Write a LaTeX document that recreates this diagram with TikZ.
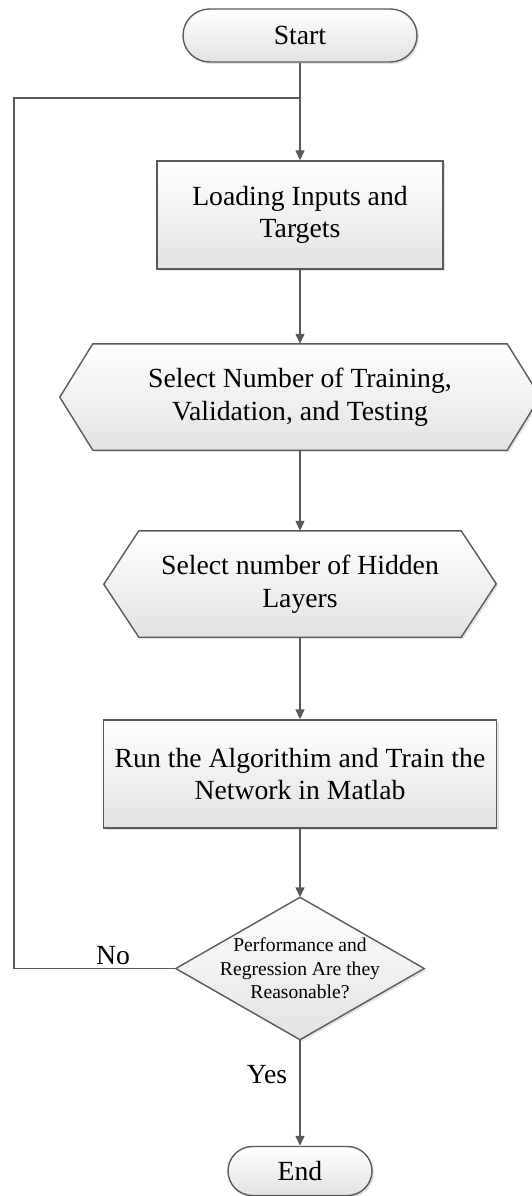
\documentclass[tikz,border=0pt]{standalone}
\usepackage{fontspec}
\setmainfont{Liberation Serif}
\usetikzlibrary{arrows.meta,shadows}
\definecolor{edge}{HTML}{5A5A5A}
\definecolor{shadeb}{HTML}{E2E2E2}
\pgfdeclarelayer{bg}
\pgfsetlayers{bg,main}
\tikzset{
  x=1pt, y=1pt,
  line/.style={draw=edge, line width=1.4pt},
  flow/.style={line, -{Triangle[length=10pt,width=9pt]}},
  shapefill/.style={line, top color=white, bottom color=shadeb,
    drop shadow={opacity=0.22, shadow xshift=2pt, shadow yshift=-2pt}},
  bigtext/.style={font=\fontsize{27.7pt}{32.5pt}\selectfont, align=center},
  smalltext/.style={font=\fontsize{19.6pt}{23.7pt}\selectfont, align=center},
  frame/.style={rectangle, inner sep=0pt, bigtext},
  procbox/.style={frame, shapefill},
  terminal/.style={frame, shapefill},
}
\begin{document}
\begin{tikzpicture}
\useasboundingbox (0,0) rectangle (531,-1196);

% terminals and process boxes
\node[terminal, minimum width=234pt, minimum height=53pt, rounded corners=26.5pt] (start) at (300,-35.5) {Start};
\node[procbox, minimum width=286pt, minimum height=108pt] (load) at (300,-215) {Loading Inputs and\\Targets};
\node[frame, minimum width=414pt, minimum height=106pt] (split) at (300,-397) {Select Number of Training,\\Validation, and Testing};
\node[frame, minimum width=322pt, minimum height=106pt] (hidden) at (300,-584) {Select number of Hidden\\Layers};
\node[procbox, minimum width=393pt, minimum height=108pt] (train) at (300,-774) {Run the Algorithim and Train the\\Network in Matlab};
\node[frame, smalltext, minimum width=248pt, minimum height=142pt] (check) at (300,-968.5) {Performance and\\Regression Are they\\Reasonable?};
\node[terminal, minimum width=144pt, minimum height=49pt, rounded corners=24.5pt] (end) at (300,-1171) {End};

% outlines of the preparation (hexagon) and decision (diamond) shapes
\begin{pgfonlayer}{bg}
  \draw[shapefill] (split.north west) -- (split.north east) -- ++(33,-53)
    -- (split.south east) -- (split.south west) -- ++(-33,53) -- cycle;
  \draw[shapefill] (hidden.north west) -- (hidden.north east) -- ++(35,-53)
    -- (hidden.south east) -- (hidden.south west) -- ++(-35,53) -- cycle;
  \draw[shapefill] (check.north) -- (check.east) -- (check.south)
    -- (check.west) -- cycle;
\end{pgfonlayer}

% connectors
\coordinate (join) at (300,-98);
\coordinate (back) at (14,-98);
\draw[flow] (start) -- (load);
\draw[flow] (load) -- (split);
\draw[flow] (split) -- (hidden);
\draw[flow] (hidden) -- (train);
\draw[flow] (train) -- (check.north);
\draw[flow] (check.south) -- (end);
\draw[line] (check.west) -| (back) -- (join);

% branch labels
\node[bigtext, inner sep=0pt] (nolbl) at (113,-956) {No};
\node[bigtext, inner sep=0pt] (yeslbl) at (267,-1075) {Yes};
\end{tikzpicture}
\end{document}
